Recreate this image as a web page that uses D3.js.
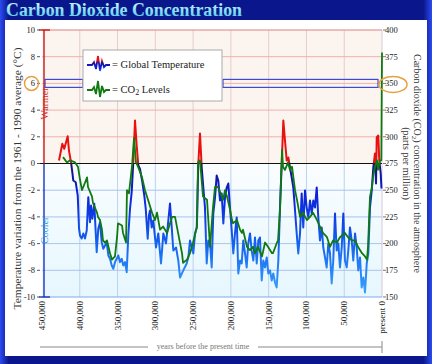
<!DOCTYPE html>
<html>
<head>
<meta charset="utf-8">
<script src="https://cdn.jsdelivr.net/npm/d3@7"></script>
<style>
  body { margin: 0; background: #0c1890; }
  svg { display: block; }
</style>
</head>
<body>
<div id="chart"></div>
<script>
// temperature (Vostok) - thousands of years before present / deg C
const tempKyr = [427.5,423.1,420.5,416.0,414.3,411.6,409.9,408.6,405.4,402.7,401.0,399.7,397.5,395.3,393.1,390.8,388.7,386.5,385.1,383.4,380.8,377.6,375.5,373.2,371.0,368.9,366.6,364.4,362.2,360.0,357.7,355.6,353.4,349.0,346.8,344.5,342.4,340.1,337.9,335.8,333.5,331.3,329.2,326.9,324.7,322.5,320.3,317.2,314.6,312.7,310.1,308.4,
  307.1,304.8,302.7,299.1,296.1,292.5,289.4,285.9,282.8,280.6,278.3,276.2,272.6,269.6,267.3,263.0,258.5,256.4,254.1,249.7,247.5,245.2,243.1,240.9,238.6,236.5,234.3,232.0,229.9,227.6,225.4,223.3,221.0,218.8,
  216.7,214.4,212.2,210.0,207.8,205.5,203.4,201.2,198.9,196.8,194.6,192.3,190.2,187.9,185.7,183.6,181.3,179.1,177.0,174.7,172.5,170.3,168.1,165.8,163.7,161.5,159.2,157.1,154.8,152.6,150.5,148.2,146.0,143.9,141.6,139.4,137.2,135.0,132.7,130.6,128.4,126.1,124.0,121.8,119.5,117.4,115.1,112.9,110.8,108.5,106.3,104.2,101.9,99.7,97.5,95.3,93.0,90.9,88.7,86.4,84.3,82.1,79.8,77.7,75.4,73.2,71.1,68.8,66.6,64.5,62.2,60.0,57.8,55.6,53.3,51.2,49.0,46.7,44.6,42.4,40.1,38.0,35.7,33.5,31.4,29.1,26.9,24.7,22.5,20.2,18.1,15.9,13.6,11.5,9.3,7.9,7.0,4.9,3.6,1.7,0.7];
const tempDeg = [0.22,1.48,1.10,2.04,0.97,0.10,-0.65,-1.27,-1.40,-2.40,-4.87,-5.39,-5.62,-5.24,-5.62,-5.02,-2.52,-4.40,-3.15,-4.14,-3.02,-6.64,-4.89,-4.40,-5.89,-6.39,-6.14,-5.89,-6.89,-7.14,-7.64,-7.89,-7.39,-6.89,-7.39,-7.14,-7.64,-7.39,-8.14,-5.39,-3.39,-2.15,0.10,3.22,1.35,-0.15,-0.40,-1.40,-2.40,-3.39,-5.64,-3.90,
  -3.52,-4.79,-4.27,-6.29,-5.24,-7.49,-5.24,-5.99,-4.27,-3.00,-4.79,-6.52,-6.29,-7.27,-8.54,-8.01,-7.49,-7.04,-5.77,-6.74,-5.24,-4.79,0,2.25,-0.30,-1.80,-3.30,-7.49,-5.77,-5.99,-7.79,-3.75,-2.55,-0.90,
  -1.27,-2.77,-2.25,-4.49,-2.55,-1.80,-1.50,-3.30,-5.02,-6.74,-5.24,-4.04,-8.24,-7.27,-7.49,-5.77,-6.74,-7.79,-5.99,-5.24,-6.52,-7.27,-5.54,-7.49,-5.77,-5.54,-8.76,-7.27,-7.79,-7.04,-8.24,-8.01,-8.76,-8.24,-8.91,-9.29,-7.27,-3.30,0,3.22,1.72,0.22,0.45,-0.30,-1.05,-1.80,-3.52,-5.24,-6.74,-5.24,-2.25,-4.79,-2.02,-3.30,-4.04,-2.77,-3.75,-2.77,-3.30,-1.80,-4.04,-5.77,-4.79,-6.29,-7.04,-7.79,-5.99,-6.74,-8.99,-7.27,-3.75,-6.52,-5.99,-7.79,-6.29,-3.75,-7.27,-7.79,-6.52,-4.79,-5.77,-7.27,-5.24,-6.29,-8.01,-7.04,-9.29,-8.54,-9.66,-7.49,-6.74,-3.30,-2.02,-0.30,0.75,-1.50,1.95,2.10,0.22,-0.75,-1.87];

// CO2 - thousands of years before present / ppm
const co2Kyr = [422.2,416.9,412.9,406.3,402.4,399.7,397.1,393.1,390.4,389.1,383.8,382.5,377.2,375.9,373.2,370.6,369.3,366.6,364.0,360.0,357.4,353.4,350.7,349.4,344.1,342.8,338.8,337.5,334.9,330.9,328.2,325.6,322.9,317.6,313.7,309.7,304.4,300.4,297.8,293.8,289.8,284.5,277.9,273.9,269.9,264.7,263.3,258.0,254.1,250.1,244.8,243.5,240.9,
  236.9,231.6,227.6,223.7,221.0,217.0,211.8,210.4,207.8,205.1,201.2,198.5,197.2,191.9,187.9,185.3,184.0,178.7,174.7,170.7,168.1,164.1,158.8,154.8,150.9,145.6,144.3,139.0,137.6,135.0,132.3,131.0,128.4,124.4,121.8,119.1,115.1,112.5,108.5,104.6,99.3,95.3,91.3,86.0,82.1,78.1,72.8,68.8,64.8,59.6,55.6,49.0,45.0,39.7,35.7,31.8,26.5,22.5,19.9,18.5,15.9,13.2,11.9,9.3,6.6,5.3,2.6,0.9,0];
const co2Ppm = [281,276,278,276,272,260,250,257,262,253,244,238,229,225,222,213,203,201,203,191,185,188,206,219,217,210,201,250,247,272,299,276,272,262,250,241,229,222,229,213,216,210,225,225,210,191,182,185,191,201,216,276,278,
  244,241,197,234,253,253,244,241,250,244,232,222,219,222,213,210,213,197,194,197,191,197,188,201,197,191,191,201,203,232,288,272,269,276,269,272,250,241,225,229,222,225,229,222,216,210,206,197,203,201,206,210,206,203,203,197,191,188,185,197,244,253,262,272,278,269,278,278,379];

const yearTicks = [450,400,350,300,250,200,150,100,50,0];
const tempTicks = [10,8,6,4,2,0,-2,-4,-6,-8,-10];
const co2Ticks = [400,375,350,325,300,275,250,225,200,175,150];

const W = 432, H = 364;
const serif = "'Liberation Serif', 'Times New Roman', serif";

const x = d3.scaleLinear().domain([450, 0]).range([42, 382]);
const yT = d3.scaleLinear().domain([-10, 10]).range([297, 30]);
const yC = d3.scaleLinear().domain([150, 400]).range([297, 30]);

const svg = d3.select('#chart').append('svg')
  .attr('width', W).attr('height', H)
  .attr('font-family', serif);

const defs = svg.append('defs');

const frameGrad = defs.append('linearGradient').attr('id', 'frame');
frameGrad.append('stop').attr('offset', 0).attr('stop-color', '#2c4cf0');
frameGrad.append('stop').attr('offset', 0.02).attr('stop-color', '#0a168c');
frameGrad.append('stop').attr('offset', 0.98).attr('stop-color', '#0a168c');
frameGrad.append('stop').attr('offset', 1).attr('stop-color', '#2c4cf0');

const titleGrad = defs.append('linearGradient').attr('id', 'titleg')
  .attr('x1', 0).attr('x2', 0).attr('y1', 0).attr('y2', 1);
titleGrad.append('stop').attr('offset', 0).attr('stop-color', '#d8fcff');
titleGrad.append('stop').attr('offset', 1).attr('stop-color', '#48c4ec');

const lowGrad = defs.append('linearGradient').attr('id', 'lowbg')
  .attr('x1', 0).attr('x2', 0).attr('y1', 0).attr('y2', 1);
lowGrad.append('stop').attr('offset', 0).attr('stop-color', '#fafdff');
lowGrad.append('stop').attr('offset', 1).attr('stop-color', '#e6f7fd');

// stroke colour follows the value: red when warmer, blues when cooler
const tGrad = defs.append('linearGradient').attr('id', 'tline')
  .attr('gradientUnits', 'userSpaceOnUse')
  .attr('x1', 0).attr('x2', 0).attr('y1', yT(10)).attr('y2', yT(-10));
[[0, '#e81010'], [0.5, '#e81010'], [0.5, '#14146a'], [0.6, '#0c1cd8'], [0.8, '#1462ee'], [1, '#3aa6ff']]
  .forEach(s => tGrad.append('stop').attr('offset', s[0]).attr('stop-color', s[1]));

// frame + panel
svg.append('rect').attr('width', W).attr('height', H).attr('fill', 'url(#frame)');
svg.append('rect').attr('x', 5).attr('y', 20).attr('width', 422).attr('height', 336).attr('fill', '#ffffff');

svg.append('text')
  .attr('x', 6).attr('y', 16)
  .attr('font-size', 18).attr('font-weight', 'bold')
  .attr('textLength', 236).attr('lengthAdjust', 'spacingAndGlyphs')
  .attr('fill', 'url(#titleg)')
  .text('Carbon Dioxide Concentration');

// plot background
svg.append('rect').attr('x', x(450)).attr('y', yT(10))
  .attr('width', x(0) - x(450)).attr('height', yT(0) - yT(10)).attr('fill', '#fcf5ef');
svg.append('rect').attr('x', x(450)).attr('y', yT(0))
  .attr('width', x(0) - x(450)).attr('height', yT(-10) - yT(0)).attr('fill', 'url(#lowbg)');

// grid
svg.append('g').selectAll('line').data(yearTicks.slice(1, -1)).join('line')
  .attr('x1', d => x(d)).attr('x2', d => x(d))
  .attr('y1', yT(10)).attr('y2', yT(0))
  .attr('stroke', '#e6cccc').attr('stroke-width', 1);
svg.append('g').selectAll('line').data(yearTicks.slice(1, -1)).join('line')
  .attr('x1', d => x(d)).attr('x2', d => x(d))
  .attr('y1', yT(0)).attr('y2', yT(-10))
  .attr('stroke', '#bcd2ee').attr('stroke-width', 1);
svg.append('line')
  .attr('x1', x(0)).attr('x2', x(0)).attr('y1', yT(10)).attr('y2', yT(-10))
  .attr('stroke', '#d8c8d8');

svg.append('g').selectAll('line').data(tempTicks.filter(d => d !== 0)).join('line')
  .attr('x1', x(450)).attr('x2', x(0))
  .attr('y1', d => yT(d)).attr('y2', d => yT(d))
  .attr('stroke', d => d > 0 ? (d === 10 ? '#e08080' : '#eeb0b0') : (d === -10 ? '#80a8e8' : '#a8c4ee'))
  .attr('stroke-width', 1);

// highlight bars at 6 degC / 350 ppm
svg.append('rect').attr('x', 45).attr('y', yT(6) - 4).attr('width', 38).attr('height', 8)
  .attr('fill', 'none').attr('stroke', '#3a4ae0').attr('stroke-width', 1.2);
svg.append('rect').attr('x', 223).attr('y', yT(6) - 4).attr('width', 155).attr('height', 8)
  .attr('fill', 'none').attr('stroke', '#3a4ae0').attr('stroke-width', 1.2);

// zero line
svg.append('line').attr('x1', 38).attr('x2', x(0))
  .attr('y1', yT(0)).attr('y2', yT(0))
  .attr('stroke', '#111').attr('stroke-width', 1.2);

// series
const tempLine = d3.line().x(d => x(d[0])).y(d => yT(d[1]));
svg.append('path')
  .datum(tempKyr.map((k, i) => [k, tempDeg[i]]))
  .attr('d', tempLine)
  .attr('fill', 'none').attr('stroke', 'url(#tline)')
  .attr('stroke-width', 2).attr('stroke-linejoin', 'round');

const co2Line = d3.line().x(d => x(d[0])).y(d => yC(d[1]));
svg.append('path')
  .datum(co2Kyr.map((k, i) => [k, co2Ppm[i]]))
  .attr('d', co2Line)
  .attr('fill', 'none').attr('stroke', '#107a10')
  .attr('stroke-width', 1.8).attr('stroke-linejoin', 'round');

// left axis
const ax = 44;
svg.append('line').attr('x1', ax).attr('x2', ax).attr('y1', yT(10)).attr('y2', yT(0))
  .attr('stroke', '#c81818').attr('stroke-width', 1.4);
svg.append('line').attr('x1', ax).attr('x2', ax).attr('y1', yT(0)).attr('y2', yT(-10))
  .attr('stroke', '#1a34c0').attr('stroke-width', 1.4);
svg.append('line').attr('x1', 39).attr('x2', 50).attr('y1', yT(10)).attr('y2', yT(10))
  .attr('stroke', '#c81818').attr('stroke-width', 1.4);
svg.append('line').attr('x1', 39).attr('x2', 50).attr('y1', yT(-10)).attr('y2', yT(-10))
  .attr('stroke', '#1a34c0').attr('stroke-width', 1.4);

svg.append('g').selectAll('line').data(tempTicks).join('line')
  .attr('x1', 37).attr('x2', 40)
  .attr('y1', d => yT(d)).attr('y2', d => yT(d))
  .attr('stroke', '#555');
svg.append('g').selectAll('text').data(tempTicks).join('text')
  .attr('x', 35).attr('y', d => yT(d)).attr('dy', '0.33em')
  .attr('text-anchor', 'end').attr('font-size', 8.5).attr('fill', '#222')
  .text(d => d);

svg.append('text')
  .attr('transform', `translate(${ax + 4},${yT(4.5)}) rotate(-90)`)
  .attr('text-anchor', 'middle').attr('font-size', 10).attr('fill', '#d03030')
  .text('Warmer');
svg.append('text')
  .attr('transform', `translate(${ax + 4},${yT(-5)}) rotate(-90)`)
  .attr('text-anchor', 'middle').attr('font-size', 10).attr('fill', '#30a0e0')
  .text('Cooler');

svg.append('text')
  .attr('transform', `translate(21,${(yT(10) + yT(-10)) / 2 + 15}) rotate(-90)`)
  .attr('text-anchor', 'middle').attr('font-size', 10).attr('fill', '#333')
  .attr('textLength', 262).attr('lengthAdjust', 'spacingAndGlyphs')
  .text('Temperature variation from the 1961 - 1990 average (°C)');

// right axis
svg.append('g').selectAll('line').data(co2Ticks).join('line')
  .attr('x1', x(0) + 1).attr('x2', x(0) + 4)
  .attr('y1', d => yC(d)).attr('y2', d => yC(d))
  .attr('stroke', '#777');
svg.append('g').selectAll('text').data(co2Ticks).join('text')
  .attr('x', 385).attr('y', d => yC(d)).attr('dy', '0.33em')
  .attr('font-size', 8.5).attr('fill', '#222')
  .text(d => d);

const rt = svg.append('text')
  .attr('transform', `translate(414,${(yC(400) + yC(150)) / 2}) rotate(90)`)
  .attr('text-anchor', 'middle').attr('font-size', 10).attr('fill', '#333');
rt.append('tspan').attr('x', 0).attr('y', 0).text('Carbon dioxide (CO');
rt.append('tspan').attr('font-size', 7).attr('dy', 2).text('2');
rt.append('tspan').attr('dy', -2).text(') concentration in the atmosphere');
rt.append('tspan').attr('x', 0).attr('y', 11).text('(parts per million)');

// orange circles
svg.append('ellipse').attr('cx', 31.5).attr('cy', yT(6)).attr('rx', 7).attr('ry', 7)
  .attr('fill', 'none').attr('stroke', '#e8a040').attr('stroke-width', 1.5);
svg.append('ellipse').attr('cx', 393).attr('cy', yC(350) + 1).attr('rx', 14).attr('ry', 8)
  .attr('fill', 'none').attr('stroke', '#e8a040').attr('stroke-width', 1.5);

// bottom axis labels
svg.append('g').selectAll('text').data(yearTicks).join('text')
  .attr('transform', d => `translate(${x(d) + 3},301) rotate(-90)`)
  .attr('text-anchor', 'end').attr('font-size', 9).attr('fill', '#222')
  .text(d => d === 0 ? 'present  0' : d3.format(',')(d * 1000));

svg.append('text').attr('x', 203).attr('y', 349)
  .attr('text-anchor', 'middle').attr('font-size', 8).attr('fill', '#777')
  .text('years before the present time');
svg.append('line').attr('x1', 40).attr('x2', 148).attr('y1', 347).attr('y2', 347).attr('stroke', '#888');
svg.append('line').attr('x1', 258).attr('x2', x(0)).attr('y1', 347).attr('y2', 347).attr('stroke', '#888');
svg.append('line').attr('x1', x(0)).attr('x2', x(0)).attr('y1', 341).attr('y2', 353).attr('stroke', '#888');

// legend
const lg = svg.append('g');
lg.append('rect').attr('x', 83).attr('y', 50).attr('width', 139).attr('height', 51)
  .attr('fill', '#ffffff').attr('stroke', '#aaa').attr('stroke-width', 1);

const iconT = [[0, 0], [5, 0], [7, -3], [9, 4], [11, -9], [13, 6], [15, -4], [17, 2], [19, 0], [23, 0]];
const iconC = [[0, 0], [5, 0], [7, -3], [9, 4], [11, -9], [13, 7], [15, -4], [17, 2], [19, 0], [23, 0]];
const icon = d3.line().x(d => d[0]).y(d => d[1]);

const igT = defs.append('linearGradient').attr('id', 'icont')
  .attr('gradientUnits', 'userSpaceOnUse')
  .attr('x1', 0).attr('x2', 0).attr('y1', -10).attr('y2', 8);
[[0, '#e81010'], [0.3, '#e81010'], [0.45, '#1414a0'], [0.75, '#1020e0'], [1, '#40a8ff']]
  .forEach(s => igT.append('stop').attr('offset', s[0]).attr('stop-color', s[1]));

lg.append('path').datum(iconT).attr('d', icon)
  .attr('transform', 'translate(87,65)')
  .attr('fill', 'none').attr('stroke', 'url(#icont)').attr('stroke-width', 1.8);
lg.append('path').datum(iconC).attr('d', icon)
  .attr('transform', 'translate(87,90)')
  .attr('fill', 'none').attr('stroke', '#107a10').attr('stroke-width', 1.8);

lg.append('text').attr('x', 112).attr('y', 68)
  .attr('font-size', 10.5).attr('fill', '#222')
  .text('= Global Temperature');
const lt = lg.append('text').attr('x', 112).attr('y', 93)
  .attr('font-size', 10.5).attr('fill', '#222');
lt.append('tspan').text('= CO');
lt.append('tspan').attr('font-size', 8).attr('dy', 2).text('2');
lt.append('tspan').attr('dy', -2).text(' Levels');
</script>
</body>
</html>
